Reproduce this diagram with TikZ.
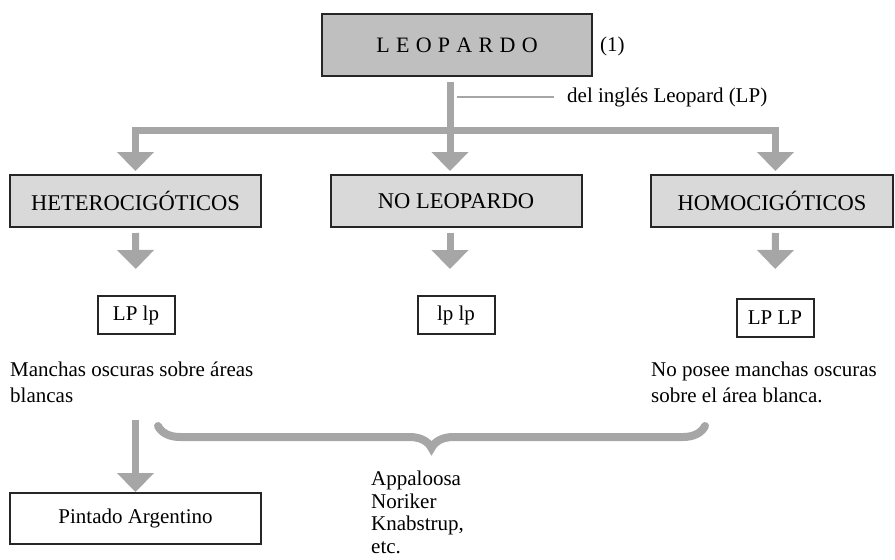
\documentclass[tikz,border=0pt]{standalone}
\usepackage{fontspec}
\setmainfont{Liberation Serif}
\usetikzlibrary{arrows.meta,decorations.pathreplacing}
\definecolor{topgray}{HTML}{BFBFBF}
\definecolor{boxgray}{HTML}{D9D9D9}
\definecolor{arrowgray}{HTML}{A6A6A6}
\tikzset{
	every node/.style={font=\fontsize{21}{26}\selectfont, inner sep=0pt},
	topbox/.style={draw=black!85, line width=2pt, fill=topgray, minimum width=270pt, minimum height=62pt, font=\fontsize{22}{26}\selectfont},
	catbox/.style={draw=black!85, line width=2pt, fill=boxgray, minimum width=251pt, minimum height=52pt, font=\fontsize{22.5}{26}\selectfont},
	genbox/.style={draw=black!85, line width=2pt, minimum height=38pt, minimum width=77pt},
	bigarrow/.style={draw=arrowgray, line width=7pt, line join=miter, -{Triangle[width=36pt,length=19pt]}}
}
\begin{document}
\begin{tikzpicture}[x=1pt,y=-1pt]
	\useasboundingbox (0,0) rectangle (895,560);
	\node[topbox] (leo) at (457,45) {L\kern6.3pt E\kern6.3pt O\kern6.3pt P\kern6.3pt A\kern6.3pt R\kern6.3pt D\kern6.3pt O};
	\node[anchor=west] (nota) at (600,46) {(1)};
	\node[anchor=west] (ingles) at (567,97) {del inglés Leopard (LP)};
	\node[catbox] (hetero) at (135.5,201) {HETEROCIGÓTICOS};
	\node[catbox] (noleo) at (456,201) {NO LEOPARDO};
	\node[catbox, minimum width=242pt] (homo) at (772,201) {HOMOCIGÓTICOS};
	\node[genbox] (lplp1) at (136,315) {LP lp};
	\node[genbox] (lplp2) at (456,315) {lp lp};
	\node[genbox] (lplp3) at (775,318) {LP LP};
	\node[anchor=north west, align=left] (manchas) at (10,362) {Manchas oscuras sobre áreas\\blancas};
	\node[anchor=north west, align=left] (noposee) at (651,362) {No posee manchas oscuras\\sobre el área blanca.};
	\node[anchor=north west, align=left, font=\fontsize{21}{22.5}\selectfont] (razas) at (371,471) {Appaloosa\\Noriker\\Knabstrup,\\etc.};
	\node[draw=black!85, line width=2pt, minimum width=251pt, minimum height=51pt] (pintado) at (135.5,518.5) {Pintado Argentino};
	\coordinate (cruce) at (450,130);
	\coordinate (linea) at (457,97);
	\draw[bigarrow, shorten <=5pt, shorten >=3pt] (leo.south -| cruce) -- (noleo.north -| cruce);
	\draw[bigarrow, shorten >=3pt] (cruce) -| (hetero.north);
	\draw[bigarrow, shorten >=3pt] (cruce) -| ([xshift=3.5pt]homo.north);
	\draw[arrowgray, line width=1.5pt] (linea) -- ([xshift=-13pt]ingles.west);
	\draw[bigarrow, shorten >=26pt] (hetero.south) ++(0,5) -- (lplp1.north);
	\draw[bigarrow, shorten >=26pt] (noleo.south -| cruce) ++(0,5) -- (lplp2.north -| cruce);
	\draw[bigarrow, shorten >=29pt] ([xshift=3.5pt]homo.south) ++(0,5) -- (lplp3.north);
	\draw[bigarrow] (135.5,420) -- (pintado.north);
	\draw[arrowgray, line width=8pt, line cap=round, decorate, decoration={brace, amplitude=22pt}] (705,426) -- (158,426);
\end{tikzpicture}
\end{document}
